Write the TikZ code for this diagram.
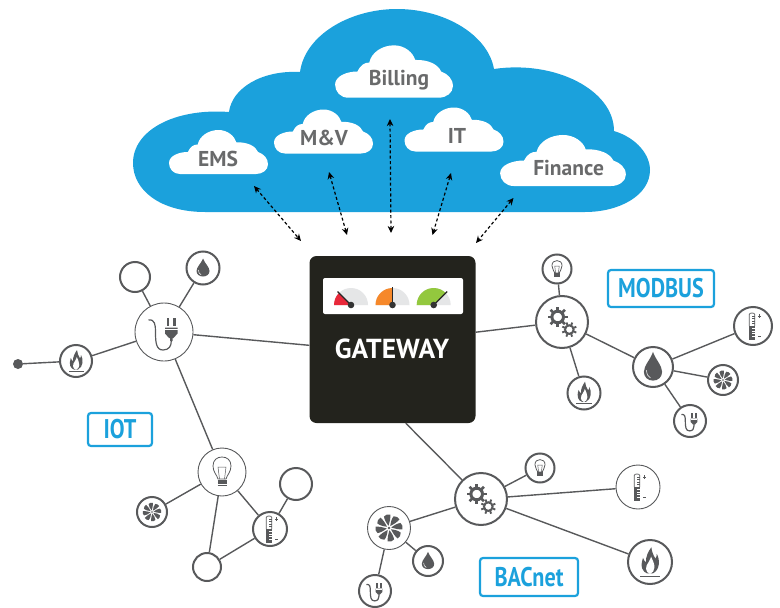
\documentclass[tikz,border=0pt]{standalone}
\usepackage{fontspec}
\setmainfont{PT Sans}
\newfontfamily\labelfont[FakeStretch=0.82]{PT Sans}
\usepackage{tikz}
\usetikzlibrary{arrows.meta}
\definecolor{cloudblue}{HTML}{1BA1DC}
\definecolor{linegray}{HTML}{58595B}
\definecolor{boxblack}{HTML}{23231D}
\definecolor{dialgray}{HTML}{E5E6E7}
\definecolor{dialred}{HTML}{E8283A}
\definecolor{dialorange}{HTML}{F6882A}
\definecolor{dialgreen}{HTML}{93C83E}
\tikzset{
thickhub/.style={
  circle, draw=linegray, line width=2pt, fill=none,
  inner sep=0pt, minimum size=#1
  },
thinhub/.style={
  circle, draw=linegray, line width=0.9pt, fill=none,
  inner sep=0pt, minimum size=#1
  },
link/.style={draw=linegray, line width=1.4pt},
dsarrow/.style={
  {Stealth[length=7pt,width=6.5pt]}-{Stealth[length=7pt,width=6.5pt]},
  black, line width=1.2pt, dash pattern=on 3pt off 2.4pt
  },
cloudtext/.style={
  font=\bfseries\fontsize{21.5}{24}\selectfont, text=linegray!90,
  inner sep=0pt
  },
protocol/.style={
  draw=cloudblue, line width=2.2pt, rounded corners=3pt, text=cloudblue,
  font=\labelfont\bfseries\fontsize{27}{29}\selectfont, inner sep=0pt
  },
needle/.style={draw=black!85, line width=1.2pt}
}
\tikzset{
smallcloud/.pic={
  \fill[white] (-38.6,-22) .. controls (-45,-22) and (-49.5,-17) .. (-49.5,-11)
    .. controls (-49.5,-4) and (-40,0) .. (-30.7,0)
    .. controls (-28,5.5) and (-25,7.5) .. (-20.8,7.5)
    .. controls (-19,16) and (-10,22) .. (0,22)
    .. controls (9,22) and (16,16) .. (17.8,9.7)
    .. controls (29,10) and (37,6) .. (39.6,0)
    .. controls (45,-2) and (49.5,-6) .. (49.5,-12.3)
    .. controls (49.5,-18) and (44,-22) .. (37.6,-22) -- cycle;
  },
flameicon/.pic={
  \fill[linegray] (-2,-8.5) .. controls (-5.5,-7.5) and (-7.5,-3.5) .. (-5.2,3)
    .. controls (-4.5,1) and (-3.5,0) .. (-2.8,-0.2)
    .. controls (-3.5,4) and (-1,8) .. (1,11)
    .. controls (1.2,8) and (2.5,5) .. (4,2.5)
    .. controls (5,4) and (5.2,5) .. (5,6)
    .. controls (7.5,2) and (7.5,-6) .. (2,-8.5) -- cycle;
  \fill[white] (0,-8.8) .. controls (-4,-7.5) and (-3.5,-3) .. (-1,0)
    .. controls (0,1.5) and (0.5,3) .. (0.8,4)
    .. controls (1.5,2) and (3.5,-1) .. (3.3,-4)
    .. controls (3.2,-6.5) and (2,-8) .. (0,-8.8) -- cycle;
  \fill[linegray] (-7.5,-11) rectangle (7.5,-10.1);
  },
dropicon/.pic={
  \fill[linegray] (0,9.5) .. controls (-1.5,5) and (-6.5,1) .. (-6.5,-3)
    .. controls (-6.5,-6.5) and (-3.5,-8.5) .. (0,-8.5)
    .. controls (3.5,-8.5) and (6.5,-6.5) .. (6.5,-3)
    .. controls (6.5,1) and (1.5,5) .. (0,9.5) -- cycle;
  \draw[white, line width=0.5pt] (-4.6,-2) .. controls (-4.6,-4.5) and (-3.5,-6) .. (-1.8,-6.8);
  },
plugicon/.pic={
  \fill[linegray] (1,4.5) -- (13.5,4.5) -- (13.5,-1.5) -- (9.5,-6) -- (8.6,-6)
    -- (8.6,-9) -- (6,-9) -- (6,-6) -- (5,-6) -- (1,-1.5) -- cycle;
  \fill[linegray] (2.7,6) rectangle (5.3,13.7);
  \fill[linegray] (9.3,6) rectangle (12,13.7);
  \draw[white, line width=0.6pt] (1,2.8) -- (13.5,2.8);
  \draw[linegray, line width=1.2pt] (-15.5,12) .. controls (-9,13) and (-8.5,7) .. (-8.5,0)
    .. controls (-8.5,-10) and (-8,-18) .. (-1,-18)
    .. controls (5,-18) and (7.3,-14) .. (7.3,-9);
  },
bulbicon/.pic={
  \draw[linegray, line width=0.8pt] (-4,-7) .. controls (-5,-3) and (-9,0) .. (-9,6)
    .. controls (-9,12) and (-5,15) .. (0,15)
    .. controls (5,15) and (9,12) .. (9,6)
    .. controls (9,0) and (5,-3) .. (4,-7) -- cycle;
  \draw[linegray, line width=0.5pt] (-2.5,-7) -- (-4,5) -- (4,5) -- (2.5,-7);
  \foreach \y in {-9,-11.3,-13.6}
    \draw[linegray, line width=1.7pt] (-4.5,\y) -- (4.5,\y);
  },
gearsicon/.pic={
  \draw[linegray, line width=3pt] (-4.3,5) circle (5.8pt);
  \foreach \a in {0,45,...,315}
    \draw[linegray, line width=2.6pt] (-4.3,5) ++(\a:6.5pt) -- ++(\a:3.7pt);
  \draw[linegray, line width=2pt] (7.3,-7.6) circle (4.3pt);
  \foreach \a in {22,67,...,337}
    \draw[linegray, line width=1.9pt] (7.3,-7.6) ++(\a:4.8pt) -- ++(\a:2.8pt);
  },
fanicon/.pic={
  \foreach \a in {0,45,...,315}
    \fill[linegray, rotate=\a] (2.2,0.4) .. controls (4.5,2.5) and (8,4.5) .. (11,4.8)
      .. controls (12.8,3.2) and (13.4,1) .. (12.8,-1.3)
      .. controls (9,-1.4) and (5.5,-0.8) .. (2.2,0.4) -- cycle;
  \fill[linegray] (0,0) circle (1.3pt);
  },
thermoicon/.pic={
  \draw[linegray, line width=0.7pt] (-3.8,0) -- (-3.8,11.5) .. controls (-3.8,13.5) and (1.8,13.5) .. (1.8,11.5) -- (1.8,0);
  \fill[linegray] (-4.2,-14) rectangle (2.2,0);
  \foreach \y in {2.5,5,7.5,10}
    \draw[linegray, line width=0.5pt] (-1,\y) -- (1.8,\y);
  \foreach \y in {-2.5,-5,-7.5,-10}
    \draw[white, line width=0.4pt] (-1,\y) -- (2.2,\y);
  \draw[linegray, line width=0.5pt] (5,10) -- (8.4,10) (6.7,8.3) -- (6.7,11.7);
  \draw[linegray, line width=0.5pt] (5,-10) -- (8.4,-10);
  }
}

\begin{document}
\begin{tikzpicture}[x=1pt,y=1pt,>=latex]
\useasboundingbox (0,0) rectangle (780,-608);

\fill[cloudblue] (205,-212) .. controls (160,-212) and (133,-190) .. (133,-163)
  .. controls (133,-130) and (175,-108) .. (229,-112)
  .. controls (232,-88) and (262,-70) .. (300,-72)
  .. controls (305,-35) and (350,-9) .. (397,-9)
  .. controls (445,-9) and (488,-35) .. (494,-69)
  .. controls (555,-60) and (614,-90) .. (614,-131)
  .. controls (637,-138) and (650,-155) .. (650,-170)
  .. controls (650,-195) and (620,-212) .. (585,-212) -- cycle;

\pic at (218.5,-152) {smallcloud};
\pic at (323.5,-131.5) {smallcloud};
\pic at (454,-129.5) {smallcloud};
\pic[xscale=1.19,yscale=1.19] at (394,-71.5) {smallcloud};
\pic[xscale=1.27,yscale=1.16] at (563,-160.5) {smallcloud};

\node[cloudtext] (ems) at (218,-158.5) {EMS};
\node[cloudtext] (mv) at (324,-137.5) {M\&V};
\node[cloudtext] (it) at (457,-136) {IT};
\node[cloudtext] (billing) at (399,-80) {Billing};
\node[cloudtext] (finance) at (568.6,-168.5) {Finance};

\node[fill=boxblack, rounded corners=7pt, minimum width=166pt,
  minimum height=167pt, inner sep=0pt] (gateway) at (392.5,-339.5) {};
\node[fill=white, rounded corners=2pt, minimum width=140pt,
  minimum height=36pt, inner sep=0pt] (panel) at (393,-296) {};
\node[text=white, font=\bfseries\fontsize{27.5}{29}\selectfont, inner sep=0pt]
  (gatewaytext) at (392,-349) {GATEWAY};

\coordinate (dial1) at (351,-305);
\coordinate (dial2) at (392.5,-305);
\coordinate (dial3) at (433.7,-305);

\fill[dialgray] (dial1) +(180:17pt) arc (180:0:17pt) -- cycle;
\fill[dialgray] (dial2) +(180:17pt) arc (180:0:17pt) -- cycle;
\fill[dialgray] (dial3) +(180:17pt) arc (180:0:17pt) -- cycle;
\fill[dialred] (dial1) -- +(180:17pt) arc (180:135:17pt) -- cycle;
\fill[dialorange] (dial2) -- +(180:17pt) arc (180:90:17pt) -- cycle;
\fill[dialgreen] (dial3) -- +(180:17pt) arc (180:45:17pt) -- cycle;
\draw[needle] (dial1) -- +(135:19pt);
\draw[needle] (dial2) -- +(90:18pt);
\draw[needle] (dial3) -- +(45:19pt);
\fill[black!80] (dial1) circle (3.3pt);
\fill[black!80] (dial2) circle (3.3pt);
\fill[black!80] (dial3) circle (3.3pt);

\coordinate (emstop) at (254,-186);
\coordinate (emsend) at (301,-241);
\coordinate (mvtop) at (329,-172);
\coordinate (mvend) at (347,-235);
\coordinate (billtop) at (390,-119);
\coordinate (billend) at (391,-233);
\coordinate (ittop) at (451,-173);
\coordinate (itend) at (432.5,-235);
\coordinate (fintop) at (513.5,-198);
\coordinate (finend) at (476,-243);

\draw[dsarrow] (emstop) -- (emsend);
\draw[dsarrow] (mvtop) -- (mvend);
\draw[dsarrow] (billtop) -- (billend);
\draw[dsarrow] (ittop) -- (itend);
\draw[dsarrow] (fintop) -- (finend);

\node[thinhub=58pt] (iotplug) at (164,-332) {};
\node[thickhub=30pt] (iotring) at (135,-277) {};
\node[thickhub=33pt] (iotdrop) at (203,-268) {};
\node[thickhub=32pt] (iotflame) at (76,-361) {};
\node[circle, fill=linegray, inner sep=0pt, minimum size=10pt] (iotdot) at (18,-364) {};
\node[thinhub=48pt] (iotbulb) at (222,-472) {};
\node[thickhub=32pt] (iotright) at (296,-484) {};
\node[thickhub=34pt] (iotthermo) at (270,-529) {};
\node[thickhub=30pt] (iotfan) at (152,-512) {};
\node[thickhub=28pt] (iotbottom) at (207,-567) {};

\node[thickhub=29pt] (modbulb) at (557,-269) {};
\node[thickhub=52pt] (modgears) at (562,-322) {};
\node[thickhub=33pt] (modflame) at (584,-393) {};
\node[thickhub=40pt] (moddrop) at (653,-367) {};
\node[thickhub=38pt] (modthermo) at (753,-326) {};
\node[thickhub=30pt] (modfan) at (723,-380) {};
\node[thickhub=32pt] (modplug) at (690,-421) {};

\node[thickhub=52pt] (bacgears) at (481,-499) {};
\node[thickhub=29pt] (bacbulb) at (540,-468) {};
\node[thinhub=44pt] (bacthermo) at (638,-487) {};
\node[thickhub=44pt] (bacflame) at (650,-562) {};
\node[thinhub=43pt] (bacfan) at (389,-528) {};
\node[thickhub=30pt] (bacdrop) at (428,-561) {};
\node[thickhub=32pt] (bacplug) at (375,-591) {};

\pic at (iotplug) {plugicon};
\pic at (iotdrop) {dropicon};
\pic at (iotflame) {flameicon};
\pic at (iotbulb) {bulbicon};
\pic at (iotthermo) {thermoicon};
\pic[scale=0.72] at (iotfan) {fanicon};

\pic[scale=0.56] at (modbulb) {bulbicon};
\pic at (modgears) {gearsicon};
\pic[scale=1.03] at (modflame) {flameicon};
\pic[xscale=1.4,yscale=1.6] at (moddrop) {dropicon};
\pic at (modthermo) {thermoicon};
\pic[scale=0.74] at (modfan) {fanicon};
\pic[scale=0.55] at (modplug) {plugicon};

\pic at (bacgears) {gearsicon};
\pic[scale=0.56] at (bacbulb) {bulbicon};
\pic at (bacthermo) {thermoicon};
\pic[scale=1.35] at (bacflame) {flameicon};
\pic[scale=1.05] at (bacfan) {fanicon};
\pic[scale=0.95] at (bacdrop) {dropicon};
\pic[scale=0.55] at (bacplug) {plugicon};

\draw[link] (iotplug) -- (gateway.184);
\draw[link] (iotplug) -- (iotring);
\draw[link] (iotplug) -- (iotdrop);
\draw[link] (iotplug) -- (iotflame);
\draw[link] (iotflame) -- (iotdot);
\draw[link] (iotplug) -- (iotbulb);
\draw[link] (iotbulb) -- (iotfan);
\draw[link] (iotbulb) -- (iotbottom);
\draw[link] (iotbulb) -- (iotthermo);
\draw[link] (iotthermo) -- (iotright);
\draw[link] (iotthermo) -- (iotbottom);

\draw[link] (modgears) -- (gateway.5);
\draw[link] (modgears) -- (modbulb);
\draw[link] (modgears) -- (modflame);
\draw[link] (modgears) -- (moddrop);
\draw[link] (moddrop) -- (modthermo);
\draw[link] (moddrop) -- (modfan);
\draw[link] (moddrop) -- (modplug);

\draw[link] (bacgears) -- (gateway.-81);
\draw[link] (bacgears) -- (bacbulb);
\draw[link] (bacgears) -- (bacthermo);
\draw[link] (bacgears) -- (bacflame);
\draw[link] (bacgears) -- (bacfan);
\draw[link] (bacfan) -- (bacdrop);
\draw[link] (bacfan) -- (bacplug);

\node[protocol, minimum width=106pt, minimum height=37pt] (modbus) at (661,-288.5) {MODBUS};
\node[protocol, minimum width=64pt, minimum height=33pt] (iot) at (120,-429.5) {IOT};
\node[protocol, minimum width=98pt, minimum height=38pt] (bacnet) at (529,-577) {BACnet};

\end{tikzpicture}
\end{document}
